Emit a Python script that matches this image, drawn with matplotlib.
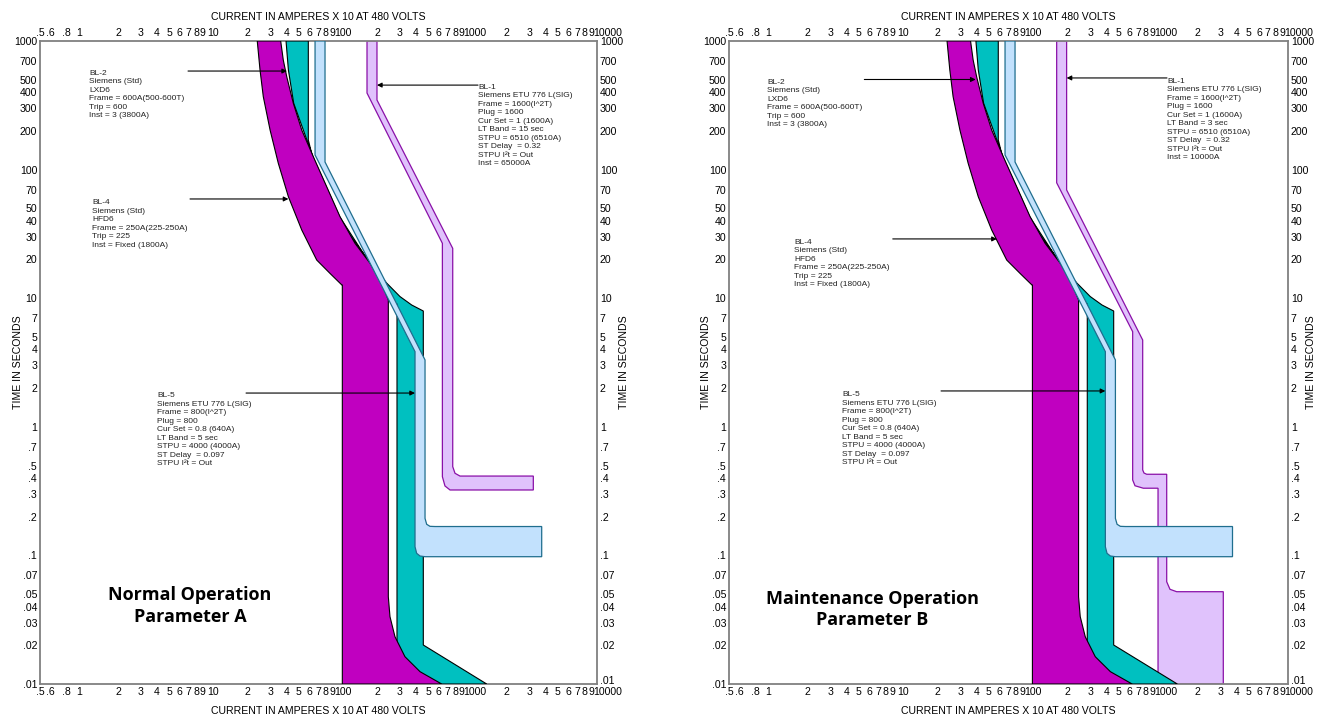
import matplotlib
matplotlib.use('Agg')
import matplotlib.pyplot as plt
from matplotlib.transforms import ScaledTranslation

# ---------------- data (current in A x10, time in s) ----------------
# BL-2 (magenta) band
bl2_min_I = [23.8, 25.0, 26.5, 29.9, 34.6, 41.4, 52.5, 68.5, 86.7, 106.8, 108, 108]
bl2_min_t = [1000, 595, 369, 203, 112, 61.5, 33.9, 19.8, 15.6, 12.7, 12.7, 0.01]
bl2_max_I = [36.1, 37.8, 40.2, 45.2, 52.5, 64.5, 81.8, 103.7, 135.3, 176.7, 217.5, 244.7,
             244.7, 252, 275.5, 329, 430, 632]
bl2_max_t = [1000, 711.6, 527.8, 327.8, 203, 126, 73.6, 43.0, 26.7, 18.7, 13.06, 9.68,
             0.0477, 0.0334, 0.0233, 0.0163, 0.01247, 0.01]

# BL-4 (cyan) band
bl4_min_I = [39.7, 41.4, 45.5, 64, 103, 176, 244, 285.5, 285.5]
bl4_min_t = [1000, 595, 328, 126, 43, 18.7, 9.7, 9.0, 0.01]
bl4_max_I = [59.0, 59.0, 64.5, 72.6, 86.7, 110, 143.6, 187.4, 237.8, 301, 371, 455.8, 455.8, 1407]
bl4_max_t = [1000, 170, 118.8, 83, 54.7, 36.0, 25.1, 17.6, 13.1, 10.3, 8.85, 7.95, 0.0201, 0.01]

# BL-5 (light blue) outline
bl5_I = [66.5, 66.5, 393.3, 393.3, 405, 430, 470, 3741, 3741, 561, 513, 484, 470, 470, 79.4, 79.4]
bl5_t = [1000, 130, 3.84, 0.1168, 0.1038, 0.0989, 0.0977, 0.0977, 0.1677, 0.1677, 0.1683,
         0.1746, 0.194, 3.31, 114.6, 1000]

# BL-1 (lavender) outline, parameter A
bl1a_I = [167.5, 167.5, 640, 640, 670, 733, 3223, 3223, 875, 801, 769, 769, 200, 200]
bl1a_t = [1000, 394, 26.7, 0.409, 0.3467, 0.3226, 0.3226, 0.414, 0.414, 0.435, 0.49, 24.4, 347.7, 1000]

# BL-1 (lavender) outline, parameter B
bl1b_I = [166, 166, 638, 638, 665, 770, 1000, 1000, 3178, 3178, 1391, 1236, 1166, 1166,
          818, 780, 762, 762, 198, 198]
bl1b_t = [1000, 79, 5.49, 0.386, 0.348, 0.333, 0.333, 0.01, 0.01, 0.0522, 0.0522, 0.0545,
          0.0624, 0.4275, 0.4275, 0.437, 0.462, 4.73, 69.5, 1000]

x_ticks = [0.5, 0.6, 0.8, 1, 2, 3, 4, 5, 6, 7, 8, 9, 10, 20, 30, 40, 50, 60, 70, 80, 90,
           100, 200, 300, 400, 500, 600, 700, 800, 900, 1000, 2000, 3000, 4000, 5000, 6000,
           7000, 8000, 9000, 10000]
x_labels = ['.5', '.6', '.8', '1', '2', '3', '4', '5', '6', '7', '8', '9', '10',
            '2', '3', '4', '5', '6', '7', '8', '9', '100',
            '2', '3', '4', '5', '6', '7', '8', '9', '1000',
            '2', '3', '4', '5', '6', '7', '8', '9', '10000']
y_ticks = [1000, 700, 500, 400, 300, 200, 100, 70, 50, 40, 30, 20, 10, 7, 5, 4, 3, 2, 1,
           0.7, 0.5, 0.4, 0.3, 0.2, 0.1, 0.07, 0.05, 0.04, 0.03, 0.02, 0.01]
y_labels = ['1000', '700', '500', '400', '300', '200', '100', '70', '50', '40', '30', '20',
            '10', '7', '5', '4', '3', '2', '1', '.7', '.5', '.4', '.3', '.2', '.1', '.07',
            '.05', '.04', '.03', '.02', '.01']

txt_bl2 = "BL-2\nSiemens (Std)\nLXD6\nFrame = 600A(500-600T)\nTrip = 600\nInst = 3 (3800A)"
txt_bl4 = "BL-4\nSiemens (Std)\nHFD6\nFrame = 250A(225-250A)\nTrip = 225\nInst = Fixed (1800A)"
txt_bl5 = ("BL-5\nSiemens ETU 776 L(SIG)\nFrame = 800(I^2T)\nPlug = 800\nCur Set = 0.8 (640A)\n"
           "LT Band = 5 sec\nSTPU = 4000 (4000A)\nST Delay  = 0.097\nSTPU I\u00b2t = Out")
txt_bl1a = ("BL-1\nSiemens ETU 776 L(SIG)\nFrame = 1600(I^2T)\nPlug = 1600\nCur Set = 1 (1600A)\n"
            "LT Band = 15 sec\nSTPU = 6510 (6510A)\nST Delay  = 0.32\nSTPU I\u00b2t = Out\nInst = 65000A")
txt_bl1b = ("BL-1\nSiemens ETU 776 L(SIG)\nFrame = 1600(I^2T)\nPlug = 1600\nCur Set = 1 (1600A)\n"
            "LT Band = 3 sec\nSTPU = 6510 (6510A)\nST Delay  = 0.32\nSTPU I\u00b2t = Out\nInst = 10000A")

# annotations: (text, text_xy, arrow_tail, arrow_tip)
notes_a = [
    (txt_bl2, (1.2, 596), (6.95, 584), (40.4, 584)),
    (txt_bl4, (1.26, 58.7), (7.2, 59.1), (41.4, 59.1)),
    (txt_bl1a, (1206, 465), (1206, 454), (200, 454)),
    (txt_bl5, (4.0, 1.85), (19.5, 1.83), (393, 1.83)),
]
notes_b = [
    (txt_bl2, (0.98, 508), (5.5, 502), (39.5, 502)),
    (txt_bl4, (1.58, 28.9), (9.1, 28.9), (57.5, 28.9)),
    (txt_bl1b, (1172, 517), (1172, 516), (198, 516)),
    (txt_bl5, (3.7, 1.89), (21.4, 1.90), (393, 1.90)),
]

titles = ["Normal Operation\nParameter A", "Maintenance Operation\nParameter B"]

# ---------------- figure ----------------
W, H = 1317, 717
fig = plt.figure(figsize=(W / 100, H / 100), dpi=100)
ax1 = fig.add_axes([40 / W, 33 / H, 557 / W, 643 / H])
ax2 = fig.add_axes([729 / W, 33 / H, 559 / W, 643 / H])

SMALL = dict(family=['Liberation Sans', 'DejaVu Sans'])
TFS = 7.6

MAG = '#C000C0'
CYA = '#00C0C0'
LBL = '#C2E1FD'
LBL_E = '#1F6E8E'
LAV = '#E0C2FC'
LAV_E = '#8A10A8'

label_shift_pt = {'10': 3.5, '100': 3.8, '1000': 5.5, '10000': 8.0}


def setup(ax):
    ax.set_xscale('log')
    ax.set_yscale('log')
    ax.set_xlim(0.5, 10000)
    ax.set_ylim(0.01, 1000)
    ax.minorticks_off()
    ax.set_xticks(x_ticks)
    ax.set_xticklabels(x_labels, fontsize=TFS, **SMALL)
    ax.set_yticks(y_ticks)
    ax.set_yticklabels(y_labels, fontsize=TFS, **SMALL)
    ax.tick_params(axis='both', which='both', length=0, pad=2,
                   top=True, labeltop=True, right=True, labelright=True)
    # nudge decade labels right a little, like the reference
    for tick in ax.xaxis.get_major_ticks():
        for lab in (tick.label1, tick.label2):
            s = label_shift_pt.get(lab.get_text())
            if s:
                lab.set_transform(lab.get_transform() +
                                  ScaledTranslation(s / 72, 0, fig.dpi_scale_trans))
    # lift the right-hand ".01" slightly, clear of the "10000" below it
    for tick in ax.yaxis.get_major_ticks():
        if tick.label2.get_text() == '.01':
            tick.label2.set_transform(tick.label2.get_transform() +
                                      ScaledTranslation(0, 3 / 72, fig.dpi_scale_trans))
    for s in ax.spines.values():
        s.set_color('#808080')
        s.set_linewidth(1.3)
    ax.text(0.5, 1.037, "CURRENT IN AMPERES X 10 AT 480 VOLTS", transform=ax.transAxes,
            ha='center', va='center', fontsize=TFS, **SMALL)
    ax.text(0.5, -0.042, "CURRENT IN AMPERES X 10 AT 480 VOLTS", transform=ax.transAxes,
            ha='center', va='center', fontsize=TFS, **SMALL)


def draw_bands(ax, bl1_I, bl1_t):
    ax.fill(bl1_I, bl1_t, facecolor=LAV, edgecolor=LAV_E, lw=0.9, zorder=2)
    ax.fill(bl4_min_I + bl4_max_I[::-1], bl4_min_t + bl4_max_t[::-1],
            facecolor=CYA, edgecolor='black', lw=0.8, zorder=3)
    ax.fill(bl2_min_I + bl2_max_I[::-1], bl2_min_t + bl2_max_t[::-1],
            facecolor=MAG, edgecolor='black', lw=0.8, zorder=4)
    ax.fill(bl5_I, bl5_t, facecolor=LBL, edgecolor=LBL_E, lw=0.9, zorder=5)


def draw_notes(ax, notes):
    for txt, txy, tail, tip in notes:
        ax.text(txy[0], txy[1], txt, ha='left', va='top', fontsize=6, linespacing=1.3,
                color='#222222', zorder=8, **SMALL)
        ax.annotate('', xy=tip, xytext=tail,
                    arrowprops=dict(arrowstyle='-|>', color='black', lw=0.8,
                                    mutation_scale=7, shrinkA=0, shrinkB=0), zorder=9)


for ax, bl1_I, bl1_t, notes, title, tx, ty, ylx in [
        (ax1, bl1a_I, bl1a_t, notes_a, titles[0], 0.269, 0.121, (-0.0395, 1.048)),
        (ax2, bl1b_I, bl1b_t, notes_b, titles[1], 0.256, 0.116, (-0.041, 1.041))]:
    setup(ax)
    draw_bands(ax, bl1_I, bl1_t)
    draw_notes(ax, notes)
    ax.text(tx, ty, title, transform=ax.transAxes, ha='center', va='center',
            fontsize=13, fontweight='bold', linespacing=1.25,
            family=['Open Sans', 'DejaVu Sans'], zorder=10)
    for xf in ylx:
        ax.text(xf, 0.5, "TIME IN SECONDS", transform=ax.transAxes, rotation=90,
                ha='center', va='center', fontsize=TFS, **SMALL)

fig.savefig('out.png', dpi=100)
